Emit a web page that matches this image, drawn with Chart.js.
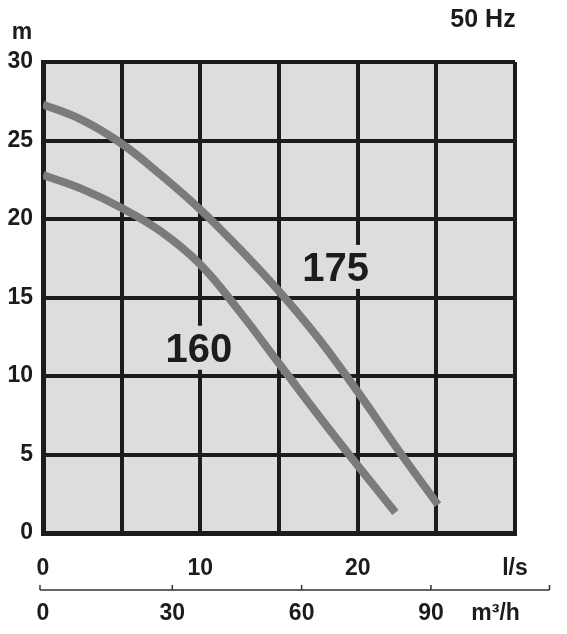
<!DOCTYPE html>
<html>
<head>
<meta charset="utf-8">
<script src="https://cdn.jsdelivr.net/npm/chart.js@4.4.1/dist/chart.umd.min.js"></script>
<style>
  html, body { margin: 0; padding: 0; background: #fff; }
  #wrap { width: 567px; height: 634px; position: relative; }
</style>
</head>
<body>
<div id="wrap"><canvas id="pumpChart"></canvas></div>
<script>
// Pump curves, flow in l/s, head in m
const q175 = [0, 2.5, 5, 7.5, 10, 12.5, 15, 17.5, 20, 22.5, 25.1];
const h175 = [27.3, 26.3, 24.8, 22.8, 20.6, 18.1, 15.4, 12.4, 9.0, 5.4, 1.8];
const q160 = [0, 2.5, 5, 7.5, 10, 12.5, 15, 17.5, 20, 22.4];
const h160 = [22.8, 21.9, 20.7, 19.2, 17.1, 14.1, 10.8, 7.5, 4.3, 1.3];

const curveNames = ['175', '160'];
const curveLabelAt = [[18.6, 16.95], [9.9, 11.8]];

const lsTicks = [0, 10, 20];
const m3hTicks = [0, 30, 60, 90];

const ink = '#1c1c1c';
const curveColor = '#7b7b7d';
const plotBg = '#dcdddf';
const fontFamily = '"Liberation Sans", Arial, sans-serif';

const toPoints = (xs, ys) => xs.map((x, i) => ({ x: x, y: ys[i] }));

// plot background, curve labels and the m3/h axis line
const decorations = {
    id: 'decorations',
    beforeDraw(chart) {
        const a = chart.chartArea;
        const c = chart.ctx;
        c.save();
        c.fillStyle = plotBg;
        c.fillRect(a.left, a.top, a.right - a.left, a.bottom - a.top);
        c.restore();
    },
    afterDatasetsDraw(chart) {
        const c = chart.ctx;
        const xs = chart.scales.x, ys = chart.scales.y;
        c.save();
        c.font = 'bold 40px ' + fontFamily;
        c.textAlign = 'center';
        c.textBaseline = 'middle';
        curveNames.forEach((name, i) => {
            const px = xs.getPixelForValue(curveLabelAt[i][0]);
            const py = ys.getPixelForValue(curveLabelAt[i][1]);
            const w = c.measureText(name).width;
            c.fillStyle = plotBg;
            c.fillRect(px - w / 2 - 4, py - 22, w + 8, 44);
            c.fillStyle = ink;
            c.fillText(name, px, py + 3);
        });
        c.restore();
    },
    afterDraw(chart) {
        const c = chart.ctx;
        const x2 = chart.scales.x2;
        const y = x2.top;
        c.save();
        c.strokeStyle = '#333';
        c.lineWidth = 1.5;
        c.beginPath();
        c.moveTo(x2.getPixelForValue(-0.7), y);
        c.lineTo(x2.getPixelForValue(117.5), y);
        m3hTicks.concat([117.5]).forEach(v => {
            const px = x2.getPixelForValue(v === 0 ? -0.7 : v);
            c.moveTo(px, y);
            c.lineTo(px, y - 5);
        });
        c.stroke();

        c.fillStyle = ink;
        c.font = 'bold 23px ' + fontFamily;
        c.textAlign = 'center';
        c.textBaseline = 'middle';
        c.fillText('m', 22, 33);
        c.font = 'bold 25px ' + fontFamily;
        c.fillText('50 Hz', 483, 20);
        c.restore();
    }
};

new Chart(document.getElementById('pumpChart'), {
    type: 'line',
    data: {
        datasets: [
            { label: '175', data: toPoints(q175, h175) },
            { label: '160', data: toPoints(q160, h160) }
        ]
    },
    options: {
        responsive: true,
        maintainAspectRatio: false,
        animation: false,
        layout: { padding: { top: 62, right: 52, left: 0, bottom: 0 } },
        elements: {
            point: { radius: 0 },
            line: {
                borderColor: curveColor,
                borderWidth: 8,
                borderCapStyle: 'butt',
                tension: 0.4,
                fill: false
            }
        },
        plugins: {
            legend: { display: false },
            tooltip: { enabled: false }
        },
        scales: {
            x: {
                type: 'linear',
                position: 'bottom',
                min: 0,
                max: 30,
                afterFit: s => { s.height = 57; },
                ticks: {
                    stepSize: 5,
                    color: ink,
                    padding: 22,
                    font: { family: fontFamily, size: 23, weight: 'bold' },
                    callback: v => lsTicks.includes(v) ? String(v) : (v === 30 ? 'l/s' : '')
                },
                grid: { color: ink, lineWidth: 4, drawTicks: false },
                border: { color: ink, width: 5 }
            },
            x2: {
                type: 'linear',
                position: 'bottom',
                min: 0,
                max: 109.5,
                afterFit: s => { s.height = 44; },
                afterBuildTicks: s => {
                    s.ticks = m3hTicks.concat([105]).map(v => ({ value: v }));
                },
                ticks: {
                    color: ink,
                    padding: 10,
                    autoSkip: false,
                    maxRotation: 0,
                    font: { family: fontFamily, size: 23, weight: 'bold' },
                    callback: v => m3hTicks.includes(v) ? String(v) : 'm³/h'
                },
                grid: { display: false, drawTicks: false },
                border: { display: false }
            },
            y: {
                min: 0,
                max: 30,
                afterFit: s => { s.width = 43; },
                ticks: {
                    stepSize: 5,
                    color: ink,
                    padding: 10,
                    font: { family: fontFamily, size: 23, weight: 'bold' }
                },
                grid: { color: ink, lineWidth: 4, drawTicks: false },
                border: { color: ink, width: 5 }
            }
        }
    },
    plugins: [decorations]
});
</script>
</body>
</html>
